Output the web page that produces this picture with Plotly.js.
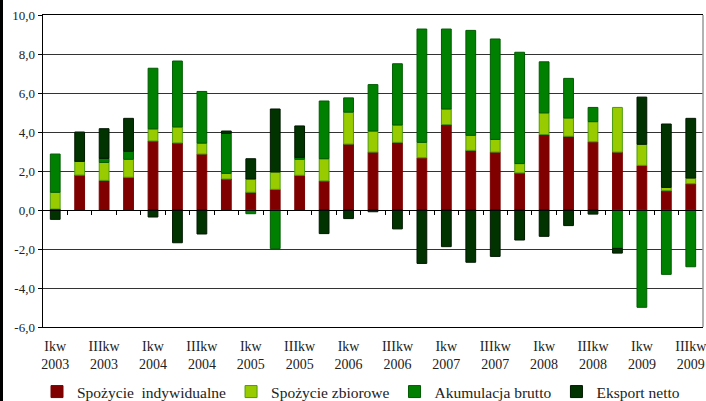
<!DOCTYPE html>
<html>
<head>
<meta charset="utf-8">
<script src="https://cdn.plot.ly/plotly-3.0.1.min.js"></script>
<style>
  html, body { margin: 0; padding: 0; background: #fff; overflow: hidden; }
  #chart { width: 706px; height: 420px; }
</style>
</head>
<body>
<div id="chart"></div>
<script>
// kwartaly 2003 Q1 .. 2009 Q3
let quarters = [
  "I 2003", "II 2003", "III 2003", "IV 2003",
  "I 2004", "II 2004", "III 2004", "IV 2004",
  "I 2005", "II 2005", "III 2005", "IV 2005",
  "I 2006", "II 2006", "III 2006", "IV 2006",
  "I 2007", "II 2007", "III 2007", "IV 2007",
  "I 2008", "II 2008", "III 2008", "IV 2008",
  "I 2009", "II 2009", "III 2009"
];

let tickQuarters = ["I 2003", "III 2003", "I 2004", "III 2004", "I 2005", "III 2005", "I 2006",
  "III 2006", "I 2007", "III 2007", "I 2008", "III 2008", "I 2009", "III 2009"];
let tickLabels = ["Ikw<br>2003", "IIIkw<br>2003", "Ikw<br>2004", "IIIkw<br>2004", "Ikw<br>2005",
  "IIIkw<br>2005", "Ikw<br>2006", "IIIkw<br>2006", "Ikw<br>2007", "IIIkw<br>2007",
  "Ikw<br>2008", "IIIkw<br>2008", "Ikw<br>2009", "IIIkw<br>2009"];

let yTickVals = [-6, -4, -2, 0, 2, 4, 6, 8, 10];
let yTickLabels = ["-6,0", "-4,0", "-2,0", "0,0", "2,0", "4,0", "6,0", "8,0", "10,0"];

let indywidualne = [0.05, 1.79, 1.52, 1.68, 3.54, 3.44, 2.87, 1.59, 0.91, 1.06, 1.78, 1.49, 3.38, 2.97,
  3.47, 2.68, 4.38, 3.06, 2.97, 1.90, 3.87, 3.78, 3.50, 2.97, 2.29, 0.99, 1.35];
let zbiorowe = [0.86, 0.71, 0.92, 0.92, 0.62, 0.82, 0.56, 0.29, 0.68, 0.89, 0.82, 1.14, 1.64, 1.08,
  0.89, 0.79, 0.80, 0.77, 0.65, 0.48, 1.11, 0.94, 1.03, 2.29, 1.08, 0.17, 0.29];
let akumulacja = [1.96, 0.00, 0.21, 0.41, 3.11, 3.38, 2.65, 2.05, -0.19, -1.98, 0.10, 2.96, 0.73, 2.38,
  3.14, 5.81, 4.10, 5.38, 5.15, 5.71, 2.62, 2.03, 0.73, -1.97, -4.99, -3.30, -2.91];
let eksport = [-0.48, 1.50, 1.52, 1.69, -0.36, -1.68, -1.23, 0.12, 1.04, 3.23, 1.61, -1.21, -0.44, -0.09,
  -0.97, -2.74, -1.88, -2.68, -2.38, -1.54, -1.35, -0.80, -0.21, -0.24, 2.42, 3.25, 3.06];

let serif = "'Liberation Serif', 'Times New Roman', serif";

function bar(name, values, color, lineColor) {
  return {
    type: "bar",
    name: name,
    x: quarters,
    y: values,
    marker: { color: color, line: { color: lineColor, width: 1 } },
    hoverinfo: "skip"
  };
}

let data = [
  bar("Spożycie\u00a0 indywidualne", indywidualne, "#800000", "#7a0000"),
  bar("Spożycie zbiorowe", zbiorowe, "#99cc00", "#4c9a10"),
  bar("Akumulacja brutto", akumulacja, "#008000", "#005a00"),
  bar("Eksport netto", eksport, "#003300", "#001800")
];

// kreseczki na linii zera miedzy slupkami
let boundaries = [];
for (let i = 0; i < quarters.length - 1; i++) boundaries.push(i + 0.5);

let H = 420;
let plotH = 327 - 15;

let layout = {
  width: 706,
  height: H,
  margin: { l: 43, r: 3, t: 15, b: H - 327 },
  paper_bgcolor: "#fff",
  plot_bgcolor: "#fff",
  barmode: "relative",
  bargap: 0.6,
  font: { family: serif, size: 13, color: "#222" },
  showlegend: true,
  legend: {
    orientation: "h",
    x: 0.5 - 12 / 660,
    xanchor: "center",
    y: -65 / plotH,
    yanchor: "middle",
    font: { family: serif, size: 15.5, color: "#222" },
    traceorder: "normal"
  },
  xaxis: {
    type: "category",
    categoryorder: "array",
    categoryarray: quarters,
    range: [-0.5, quarters.length - 0.5],
    tickvals: tickQuarters,
    ticktext: tickLabels,
    ticks: "",
    ticklabelstandoff: 6,
    showgrid: false,
    zeroline: false,
    showline: true,
    linecolor: "#000",
    linewidth: 1,
    mirror: true,
    tickfont: { family: serif, size: 14, color: "#222" }
  },
  xaxis2: {
    overlaying: "x",
    anchor: "free",
    position: 6 / 16,
    range: [-0.5, quarters.length - 0.5],
    tickvals: boundaries,
    ticks: "outside",
    ticklen: 4,
    tickcolor: "#000",
    showticklabels: false,
    showgrid: false,
    zeroline: false,
    showline: true,
    linecolor: "#000",
    linewidth: 1
  },
  yaxis: {
    range: [-6, 10],
    tickvals: yTickVals,
    ticktext: yTickLabels,
    ticks: "outside",
    ticklen: 4,
    tickcolor: "#000",
    showgrid: true,
    gridcolor: "#333",
    gridwidth: 1,
    zeroline: false,
    showline: true,
    linecolor: "#000",
    linewidth: 1.5,
    tickfont: { family: serif, size: 13, color: "#222" }
  },
  shapes: [
    { type: "line", xref: "paper", yref: "paper", x0: 1, x1: 1, y0: 0, y1: 1,
      line: { color: "#999", width: 1.5 } },
    { type: "line", xref: "paper", yref: "paper", x0: -41.5 / 660, x1: -41.5 / 660,
      y0: -(H - 327) / plotH, y1: 1 + 15 / plotH, line: { color: "#000", width: 3 } }
  ],
  annotations: [
    { text: "przyczynek popytu", xref: "paper", yref: "paper", x: (292 - 43) / 660, y: 1 + 19 / plotH,
      xanchor: "left", yanchor: "bottom", showarrow: false,
      font: { family: serif, size: 15, color: "#222" } }
  ]
};

// pusty slad zeby pokazac os xaxis2
data.push({ type: "scatter", x: [0], y: [0], xaxis: "x2", mode: "markers",
  marker: { opacity: 0 }, showlegend: false, hoverinfo: "skip" });

Plotly.newPlot("chart", data, layout, { staticPlot: true });
</script>
</body>
</html>
